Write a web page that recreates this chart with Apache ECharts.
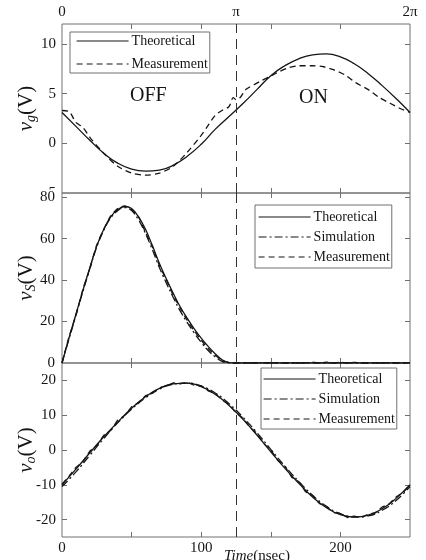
<!DOCTYPE html>
<html><head><meta charset="utf-8">
<script src="https://cdn.jsdelivr.net/npm/echarts@6/dist/echarts.min.js"></script>
<style>html,body{margin:0;padding:0;background:#fff}#c{width:426px;height:560px}</style>
</head><body><div id="c"></div>
<script>
// time bases (nsec)
const t10 = [0,10,20,30,40,50,60,70,80,90,100,110,120,130,140,150,160,170,180,190,200,210,220,230,240,250];
const t5 = [0,5,10,15,20,25,30,35,40,45,50,55,60,65,70,75,80,85,90,95,100,105,110,115,120,125,130,135,140,145,150,155,160,165,170,175,180,185,190,195,200,205,210,215,220,225,230,235,240,245,250];

// panel 1: v_g
const vgTheo = [3.1,1.7,0.3,-1.0,-2.0,-2.6,-2.8,-2.7,-2.2,-1.3,-0.1,1.4,2.7,4.0,5.4,6.8,7.8,8.5,8.9,9.0,8.7,8.0,7.0,5.8,4.5,3.1];
const vgMeasT = [0,5,10,15,20,30,40,50,60,70,80,90,100,105,110,115,120,123,125,128,132,142,149,156,163,170,180,188,195,203,211,220,228,236,243,250];
const vgMeas = [3.3,3.2,2.1,1.6,0.6,-1.0,-2.3,-3.0,-3.2,-3.0,-2.3,-0.9,0.8,1.8,2.8,3.3,3.7,4.6,4.4,4.6,5.4,6.2,6.7,7.2,7.6,7.8,7.8,7.7,7.4,6.9,6.1,5.4,4.6,4.0,3.5,3.1];

// panel 2: v_S
const vsTheo = [0,12,23.5,35,46,56.5,64.5,70.5,74,75.5,74.5,70.5,64.5,56.5,48,40.5,33.5,27,21.5,16.5,12,8,4.5,1.5,0.2,0,0,0,0,0,0,0,0,0,0,0,0,0,0,0,0,0,0,0,0,0,0,0,0,0,0];
const vsSim = [0,11.5,23,34.5,45.5,56,64,70,73.5,75,73.5,69,62.5,54.5,46,38.5,31.5,25,19.5,14.5,10,6,3,0.8,0,0,0,0,0,0,0,0,0,0,0,0,0,0,0,0,0,0,0,0,0,0,0,0,0,0,0];
const vsMeas = [0,12.5,23,35.5,45.5,57,64.5,71,74.5,75.8,74,70.5,63,56,47,40,32.5,26.5,20.5,15.5,11,7,3.8,1.2,0.3,0,0,0,0,0,0,0,0,0,0,0,0.4,0,0.4,0,0.4,0,0.3,0,0,0,0,0,0,0,0];

// panel 3: v_o
const voTheo = [-10,-5.5,-0.8,3.8,8.0,12.0,15.3,17.7,19.0,19.2,18.2,16.0,12.8,8.8,4.3,-0.5,-5.2,-9.5,-13.5,-16.6,-18.6,-19.3,-18.7,-16.9,-13.9,-10];
const voSim = [-10.5,-6.3,-1.5,3.3,7.8,11.7,15.0,17.5,18.9,19.2,18.4,16.4,13.3,9.4,5.0,0.2,-4.6,-9.0,-13.0,-16.2,-18.3,-19.2,-18.9,-17.3,-14.5,-10.5];
const voMeas = [-9.8,-7.5,-5.0,-3.4,-0.3,1.3,4.2,5.6,8.6,9.9,12.4,13.6,15.6,16.3,17.9,18.4,19.3,19.0,19.5,18.6,18.4,17.0,16.3,14.4,13.1,10.7,9.2,6.5,4.8,1.8,0.0,-3.0,-4.6,-7.8,-9.1,-12.0,-13.1,-15.4,-16.2,-18.0,-18.2,-19.4,-19.0,-19.5,-18.4,-18.1,-16.4,-15.5,-13.5,-12.2,-10.0];

const xLabels = [0,100,200];
const phaseLabels = ['0','π','2π'];
const vgTicks = [-5,0,5,10];
const vsTicks = [0,20,40,60,80];
const voTicks = [-20,-10,0,10,20];

const zip = (xs, ys) => xs.map((x, i) => [x, ys[i]]);
const FONT = 'Liberation Serif';
const INK = '#151515';
const AX = '#707070';

const grids = [
  {left: 62, right: 16, top: 24, height: 169},
  {left: 62, right: 16, top: 193, height: 170},
  {left: 62, right: 16, top: 363, height: 174}
].map(g => Object.assign(g, {show: true, borderColor: AX, borderWidth: 1, backgroundColor: 'transparent', containLabel: false, outerBoundsMode: 'none'}));

function xAx(grid, pos, labels) {
  return {
    type: 'value', gridIndex: grid, position: pos, min: 0, max: 250, interval: 50,
    axisLine: {show: false, onZero: false}, splitLine: {show: false},
    axisTick: {show: true, inside: true, length: 5, lineStyle: {color: AX}, customValues: [50,100,150,200]},
    axisLabel: labels ? Object.assign({show: true, color: INK, fontFamily: FONT, fontSize: 15}, labels) : {show: false}
  };
}
function yAx(grid, pos, min, max, ticks, labels, extra) {
  return Object.assign({
    type: 'value', gridIndex: grid, position: pos, min: min, max: max,
    axisLine: {show: false, onZero: false}, splitLine: {show: false},
    axisTick: {show: true, inside: true, length: 5, lineStyle: {color: AX}, customValues: ticks},
    axisLabel: labels ? Object.assign({show: true, color: INK, fontFamily: FONT, fontSize: 15, margin: 6}, labels) : {show: false}
  }, extra || {});
}
function yName(sub) {
  return {
    name: '{i|v}{s|' + sub + '}{n|(V)}', nameLocation: 'middle', nameGap: 24, nameRotate: 90,
    nameMoveOverlap: false,
    nameTextStyle: {
      rich: {
        i: {fontFamily: FONT, fontStyle: 'italic', fontSize: 21, lineHeight: 24, verticalAlign: 'middle', color: INK},
        s: {fontFamily: FONT, fontStyle: 'italic', fontSize: 14, lineHeight: 24, verticalAlign: 'bottom', color: INK},
        n: {fontFamily: FONT, fontSize: 21, lineHeight: 24, verticalAlign: 'middle', color: INK}
      }
    }
  };
}

const xAxis = [
  xAx(0, 'bottom', null),
  xAx(0, 'top', {customValues: [0,125,250], margin: 4, formatter: v => phaseLabels[[0,125,250].indexOf(v)]}),
  xAx(1, 'bottom', null),
  xAx(1, 'top', null),
  Object.assign(xAx(2, 'bottom', {customValues: xLabels, margin: 4}), {
    name: '{it|Time}{n|(nsec)}', nameLocation: 'middle', nameGap: 12, nameMoveOverlap: false,
    nameTextStyle: {padding: [0,0,0,42], rich: {
      it: {fontFamily: FONT, fontStyle: 'italic', fontSize: 15, color: INK},
      n: {fontFamily: FONT, fontSize: 15, color: INK}}}
  }),
  xAx(2, 'top', null)
];
const yAxis = [
  yAx(0, 'left', -5, 12, [0,5,10], {customValues: vgTicks}, yName('g')),
  yAx(0, 'right', -5, 12, [0,5,10], null),
  yAx(1, 'left', 0, 82, [20,40,60,80], {customValues: vsTicks, backgroundColor: '#fff', padding: [0,1,0,0]}, yName('S')),
  yAx(1, 'right', 0, 82, [20,40,60,80], null),
  yAx(2, 'left', -25, 25, voTicks, {customValues: voTicks}, yName('o')),
  yAx(2, 'right', -25, 25, voTicks, null)
];

const vline = {
  silent: true, symbol: 'none', label: {show: false},
  lineStyle: {color: '#333', width: 1, type: [10,6]},
  data: [{xAxis: 125}]
};
function line(name, xi, yi, data, type, smooth, extra) {
  return Object.assign({
    name: name, type: 'line', xAxisIndex: xi, yAxisIndex: yi, data: data,
    symbol: 'none', smooth: smooth, animation: false,
    lineStyle: {color: INK, width: 1.3, type: type}, itemStyle: {color: INK}
  }, extra || {});
}
const SOLID = 'solid', DASH = [6,4], DASHDOT = [8,3,2,3];

const series = [
  line('Theoretical', 0, 0, zip(t10, vgTheo), SOLID, true, {markLine: vline}),
  line('Measurement', 0, 0, zip(vgMeasT, vgMeas), DASH, 0.3),
  line('Theoretical', 2, 2, zip(t5, vsTheo), SOLID, 0.4, {markLine: vline}),
  line('Simulation', 2, 2, zip(t5, vsSim), DASHDOT, 0.4),
  line('Measurement', 2, 2, zip(t5, vsMeas), DASH, 0.2),
  line('Theoretical', 4, 4, zip(t10, voTheo), SOLID, true, {markLine: vline}),
  line('Simulation', 4, 4, zip(t10, voSim), DASHDOT, true),
  line('Measurement', 4, 4, zip(t5, voMeas), DASH, false)
];

function legend(names, left, top, gap, pad) {
  return {
    data: names, orient: 'vertical', left: left, top: top, itemGap: gap,
    itemWidth: 52, itemHeight: 14, padding: pad, selectedMode: false,
    borderColor: AX, borderWidth: 1, backgroundColor: '#fff',
    itemStyle: {opacity: 0, borderWidth: 0},
    lineStyle: {width: 1.2},
    textStyle: {fontFamily: FONT, fontSize: 14, color: INK, padding: [0,0,0,-2]}
  };
}

const option = {
  backgroundColor: '#fff',
  animation: false,
  grid: grids, xAxis: xAxis, yAxis: yAxis, series: series,
  legend: [
    legend(['Theoretical','Measurement'], 70, 32, 9, [2,2,2,6]),
    legend(['Theoretical','Simulation','Measurement'], 255, 205, 6, [5,2,4,3]),
    legend(['Theoretical','Simulation','Measurement'], 261, 368, 6, [4,2,3,2])
  ],
  graphic: [
    {type: 'text', left: 130, top: 86, style: {text: 'OFF', fontFamily: FONT, fontSize: 20, fill: INK}},
    {type: 'text', left: 299, top: 88, style: {text: 'ON', fontFamily: FONT, fontSize: 20, fill: INK}}
  ]
};
echarts.init(document.getElementById('c'), null, {renderer: 'canvas'}).setOption(option);
</script>
</body></html>
